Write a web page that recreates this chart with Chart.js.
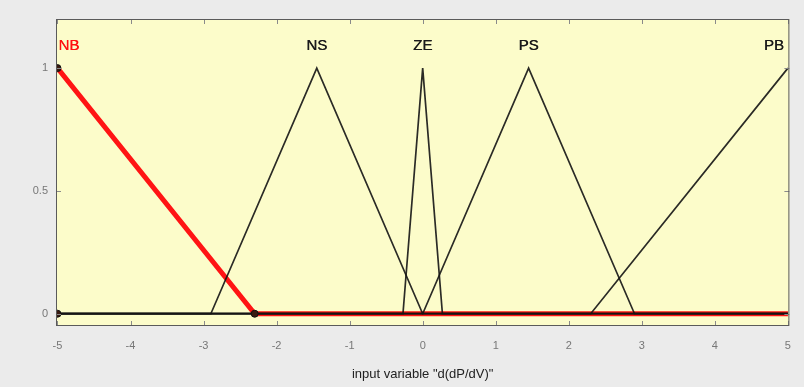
<!DOCTYPE html>
<html>
<head>
  <meta charset="UTF-8">
  <title>Membership functions d(dP/dV)</title>
  <script src="https://cdn.jsdelivr.net/npm/chart.js"></script>
  <style>
    body { margin: 0; background: #ebebeb; }
    canvas { display: block; }
  </style>
</head>
<body>
  <canvas id="chart" width="804" height="387"></canvas>

  <script>
    // membership functions, each drawn over the full input range
    const mfNames = ['NB', 'NS', 'ZE', 'PS', 'PB'];
    const nbX = [-5, -2.3, 5];
    const nbY = [1, 0, 0];
    const nsX = [-5, -2.9, -1.45, 0, 5];
    const nsY = [0, 0, 1, 0, 0];
    const zeX = [-5, -0.27, 0, 0.27, 5];
    const zeY = [0, 0, 1, 0, 0];
    const psX = [-5, 0, 1.45, 2.9, 5];
    const psY = [0, 0, 1, 0, 0];
    const pbX = [-5, 2.3, 5];
    const pbY = [0, 0, 1];
    // vertices of the selected function (NB)
    const nbVertX = [-5, -5, -2.3];
    const nbVertY = [0, 1, 0];
    // where the names sit
    const labelX = [-5, -1.45, 0, 1.45, 5];
    const labelY = 1.09;
    const xTicks = [-5, -4, -3, -2, -1, 0, 1, 2, 3, 4, 5];
    const yTicks = [0, 0.5, 1];
    const xTitle = 'input variable "d(dP/dV)"';

    const pts = (xs, ys) => xs.map((x, i) => ({ x: x, y: ys[i] }));

    function mfLine(xs, ys, color, width, order) {
      return {
        data: pts(xs, ys),
        showLine: true,
        borderColor: color,
        backgroundColor: color,
        borderWidth: width,
        pointRadius: 0,
        tension: 0,
        order: order
      };
    }

    const bgPlugin = {
      id: 'bg',
      beforeDraw(chart) {
        const c = chart.ctx, a = chart.chartArea;
        c.save();
        c.fillStyle = '#ebebeb';
        c.fillRect(0, 0, chart.width, chart.height);
        c.fillStyle = '#fcfcca';
        c.fillRect(a.left, a.top, a.right - a.left, a.bottom - a.top);
        c.restore();
      },
      afterDatasetsDraw(chart) {
        const c = chart.ctx, a = chart.chartArea;
        const xs = chart.scales.x, ys = chart.scales.y;
        c.save();
        // inward ticks
        c.strokeStyle = '#8a8a8a';
        c.lineWidth = 1;
        xTicks.forEach(v => {
          const px = Math.round(xs.getPixelForValue(v)) + 0.5;
          c.beginPath();
          c.moveTo(px, a.bottom); c.lineTo(px, a.bottom - 5);
          c.moveTo(px, a.top); c.lineTo(px, a.top + 5);
          c.stroke();
        });
        yTicks.forEach(v => {
          const py = Math.round(ys.getPixelForValue(v)) + 0.5;
          c.beginPath();
          c.moveTo(a.left, py); c.lineTo(a.left + 5, py);
          c.moveTo(a.right, py); c.lineTo(a.right - 5, py);
          c.stroke();
        });
        // frame
        c.strokeStyle = '#5a5a5a';
        c.strokeRect(a.left + 0.5, a.top + 0.5, a.right - a.left - 1, a.bottom - a.top - 1);
        // names
        c.font = '15px "Liberation Sans", Arial, sans-serif';
        c.textBaseline = 'middle';
        mfNames.forEach((name, i) => {
          const px = xs.getPixelForValue(labelX[i]);
          const py = ys.getPixelForValue(labelY);
          c.fillStyle = i === 0 ? '#ff1010' : '#1a1a1a';
          c.textAlign = i === 0 ? 'left' : (i === mfNames.length - 1 ? 'right' : 'center');
          const off = i === 0 ? 1 : (i === mfNames.length - 1 ? -4 : 0);
          c.fillText(name, px + off, py);
          c.fillText(name, px + off + 0.4, py);
        });
        c.restore();
      }
    };

    const ctx = document.getElementById('chart').getContext('2d');
    new Chart(ctx, {
      type: 'scatter',
      data: {
        datasets: [
          mfLine(nbX, nbY, '#ff1414', 5, 5),
          mfLine(nsX, nsY, 'rgba(20,20,20,0.9)', 1.7, 1),
          mfLine(zeX, zeY, 'rgba(20,20,20,0.9)', 1.7, 1),
          mfLine(psX, psY, 'rgba(20,20,20,0.9)', 1.7, 1),
          mfLine(pbX, pbY, 'rgba(20,20,20,0.9)', 1.7, 1),
          {
            data: pts(nbVertX, nbVertY),
            showLine: false,
            pointRadius: 3.5,
            pointBackgroundColor: '#3a1a10',
            pointBorderColor: '#111',
            pointBorderWidth: 1,
            order: 0
          }
        ]
      },
      options: {
        responsive: false,
        animation: false,
        events: [],
        layout: { padding: { top: 19, right: 12, left: 0, bottom: 0 } },
        plugins: { legend: { display: false }, tooltip: { enabled: false } },
        scales: {
          x: {
            type: 'linear',
            min: -5.02,
            max: 5.02,
            afterBuildTicks: s => { s.ticks = xTicks.map(v => ({ value: v })); },
            afterFit: s => { s.height = 61; },
            grid: { display: false, drawTicks: false },
            border: { display: false },
            ticks: {
              padding: 13,
              color: '#777',
              font: { size: 11, family: '"Liberation Sans", Arial, sans-serif' },
              callback: v => String(v)
            },
            title: {
              display: true,
              text: xTitle,
              color: '#222',
              font: { size: 13, family: '"Liberation Sans", Arial, sans-serif' },
              padding: { top: 0, bottom: 5 }
            }
          },
          y: {
            min: -0.05,
            max: 1.2,
            afterBuildTicks: s => { s.ticks = yTicks.map(v => ({ value: v })); },
            afterFit: s => { s.width = 56; },
            grid: { display: false, drawTicks: false },
            border: { display: false },
            ticks: {
              padding: 8,
              color: '#777',
              font: { size: 11, family: '"Liberation Sans", Arial, sans-serif' },
              callback: v => String(v)
            }
          }
        }
      },
      plugins: [bgPlugin]
    });
  </script>
</body>
</html>
